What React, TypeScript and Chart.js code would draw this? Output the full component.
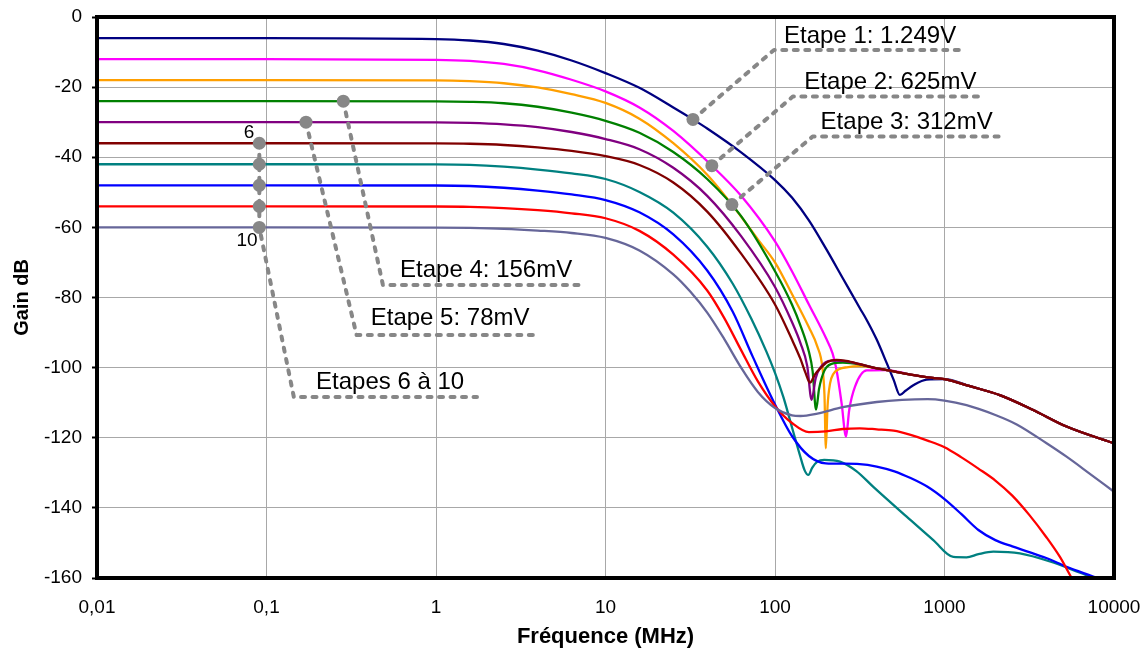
import React, { useEffect, useRef } from 'react';
import { Chart, registerables } from 'chart.js';

Chart.register(...registerables);

// ---------- axes ----------
const freqTicks = [0.01, 0.1, 1, 10, 100, 1000, 10000];
const gainMin = -160;
const gainMax = 0;
const gainStep = 20;

// ---------- series (frequency in MHz, gain in dB) ----------
// Shared high-frequency tail of stages 1..6
const tailFreq = [380, 457, 631, 794, 1000, 1413, 2138, 3311, 5248, 10000];
const tailGain = [-100, -100.7, -102, -102.8, -103.3, -105.3, -107.9, -112, -116.8, -121.6];

const navyFreq = [0.01, 0.1, 1, 1.585, 2.512, 3.981, 6.31, 10, 15.85, 25.12, 32.8, 39.81, 63.1, 100, 125.9, 158.5, 199.5, 251.2, 316.2, 347.5, 398.1, 457, 501.2, 545.8, 588.8, 654.6, 785.2];
const navyGain = [-6, -6, -6.3, -6.7, -7.7, -9.6, -12.4, -16.0, -20.2, -25.8, -29.2, -31.8, -38.6, -46.5, -51.5, -58, -66, -74.5, -83, -86.4, -92, -98.8, -103.5, -107.8, -106.6, -105, -103.4];

const magentaFreq = [0.01, 0.1, 1, 1.585, 2.512, 3.981, 6.31, 10, 15.85, 25.12, 42.4, 63.1, 100, 125.9, 158.5, 199.5, 218.8, 230.7, 247.2, 262.4, 274.2, 296.5, 347.5];
const magentaGain = [-12, -12, -12.2, -12.5, -13.4, -15.2, -17.9, -21.2, -25.8, -32.5, -42.4, -51, -64, -72.5, -82, -91.5, -96, -100.7, -110.2, -119.7, -112, -105.4, -100.8];

const orangeFreq = [0.01, 0.1, 1, 1.585, 2.512, 3.981, 6.31, 10, 15.85, 25.12, 39.81, 55.7, 79.43, 100, 125.9, 158.5, 177.8, 190.5, 195.9, 199.5, 204.2, 211.3, 220.8, 239.9, 264.9, 316.2];
const orangeGain = [-18, -18, -18.05, -18.3, -18.9, -20.1, -22, -24.5, -29, -36, -45, -53.5, -63.5, -70, -79, -88.5, -94, -100, -108, -123, -111, -104.5, -101.8, -100.4, -99.9, -99.6];

const greenFreq = [0.01, 0.1, 1, 1.585, 2.512, 3.981, 6.31, 10, 15.85, 25.12, 39.81, 63.1, 100, 125.9, 141.3, 158.5, 166.7, 174.6, 182, 195, 213.8, 251.2, 316.2];
const greenGain = [-24, -24, -24.05, -24.2, -24.6, -25.6, -27.3, -29.6, -33, -38.5, -46.2, -56.8, -72.5, -82, -88, -95.5, -101, -112, -106, -101, -99, -98.6, -99.1];

const purpleFreq = [0.01, 0.1, 1, 1.585, 2.512, 3.981, 6.31, 10, 15.85, 25.12, 39.81, 63.1, 100, 125.9, 141.3, 154.9, 164.4, 173.8, 186.2, 213.8, 251.2, 316.2];
const purpleGain = [-30, -30, -30.05, -30.2, -30.6, -31.4, -32.8, -34.8, -37.7, -43, -51, -62.5, -77, -87, -93, -99.5, -109.2, -103, -99.8, -98, -98.1, -99];

const maroonFreq = [0.01, 0.1, 1, 1.585, 2.512, 3.981, 6.31, 10, 15.85, 25.12, 39.81, 63.1, 100, 125.9, 141.3, 151.4, 160.7, 171.8, 184.1, 204.2, 230.7, 263, 316.2];
const maroonGain = [-36, -36, -36.05, -36.15, -36.5, -37.2, -38.2, -39.7, -42.2, -47.2, -55.5, -67.5, -82, -92, -97.5, -101.5, -104.3, -102, -100.3, -98.4, -97.8, -98.1, -99];

const tealFreq = [0.01, 0.1, 1, 1.585, 2.512, 3.981, 6.31, 10, 15.85, 25.12, 39.81, 56.23, 72.4, 89.13, 100, 112.2, 125.9, 140.3, 149.6, 157.4, 166, 177.8, 195, 241.5, 302, 380.2, 598, 859, 1127, 1349, 1585, 1941, 2786, 4188, 6310, 7889, 10000];
const tealGain = [-42, -42, -42.05, -42.2, -42.7, -43.5, -44.6, -46.2, -49.9, -55.8, -65.5, -76, -86, -95.5, -101.5, -108.5, -117, -125, -129.3, -130.6, -128.5, -126.8, -126.3, -126.8, -129.5, -134, -142.5, -149.2, -154, -154.1, -153.2, -152.5, -153, -155.3, -158.5, -160.3, -162];

const blueFreq = [0.01, 0.1, 1, 1.585, 2.512, 3.981, 6.31, 10, 15.85, 25.12, 39.81, 56.23, 74.1, 100, 125.9, 158.5, 199.5, 251.2, 316.2, 398.1, 501.2, 631, 794.3, 1000, 1259, 1585, 1995, 2512, 3162, 3981, 5248, 8260, 10000];
const blueGain = [-48, -48, -48.05, -48.2, -48.7, -49.5, -50.6, -52.2, -55.7, -62, -72.3, -84, -97, -110.5, -119.5, -125.2, -127.3, -127.4, -127.5, -128.2, -129.5, -131.5, -134, -137.5, -141.8, -146.3, -149.2, -151, -152.6, -154.3, -156.8, -160.3, -162];

const redFreq = [0.01, 0.1, 1, 1.585, 2.512, 3.981, 6.31, 10, 15.85, 25.12, 39.81, 50.12, 63.1, 79.43, 100, 125.9, 158.5, 199.5, 251.2, 316.2, 398.1, 501.2, 631, 794.3, 1000, 1259, 1585, 1995, 2512, 3162, 3981, 4797, 5623, 6310];
const redGain = [-54, -54, -54.05, -54.15, -54.5, -55.1, -56, -57.4, -61, -67.8, -78, -85.8, -95, -104, -111, -115.8, -118.4, -118.2, -117.5, -117.3, -117.6, -118, -119.2, -120.8, -122.7, -125.6, -128.8, -132.2, -136.5, -142, -148.3, -154, -160, -164];

const slateFreq = [0.01, 0.1, 1, 1.585, 2.512, 3.981, 6.31, 10, 15.85, 25.12, 31.62, 39.81, 50.12, 63.1, 79.43, 100, 125.9, 141.3, 177.8, 251.2, 398.1, 562.3, 794.3, 1000, 1349, 1995, 2667, 3981, 5248, 7079, 10000];
const slateGain = [-60, -60, -60.05, -60.15, -60.4, -60.9, -61.6, -63, -66.6, -73.4, -78.3, -84.3, -91.8, -100, -107, -111.5, -113.6, -113.8, -113.1, -111.3, -109.8, -109.2, -109, -109.4, -110.7, -113.5, -116.2, -121.5, -125.4, -130, -135.4];

// ---------- callouts (data space: MHz, dB) ----------
const calloutText = ['Etape 1: 1.249V', 'Etape 2: 625mV', 'Etape 3: 312mV', 'Etape 4: 156mV', 'Etape 5: 78mV', 'Etapes 6 à 10'];
const calloutPathFreq = [
  [32.8, 98.7, 1285],
  [42.4, 127.4, 1663],
  [55.7, 166.7, 2198],
  [0.284, 0.486, 7.08],
  [0.171, 0.34, 4.02],
  [0.0907, 0.0907, 0.145, 1.745],
];
const calloutPathGain = [
  [-29.2, -9.4, -9.4],
  [-42.4, -22.7, -22.7],
  [-53.5, -34.1, -34.1],
  [-24, -76.4, -76.4],
  [-30, -90.7, -90.7],
  [-36, -60, -108.4, -108.4],
];
const calloutLabelFreq = [113, 149, 185.8, 0.614, 0.412, 0.196];
const calloutLabelGain = [-7.4, -20.6, -32.0, -74.1, -87.8, -106.2];
const stageDotFreq = 0.0907;
const stageDotGain = [-36, -42, -48, -54, -60];
const stageNumText = ['6', '10'];
const stageNumFreq = [0.0789, 0.0768];
const stageNumGain = [-33.1, -63.9];

const FONT = '"Liberation Sans", Arial, Helvetica, sans-serif';

function withTail(freq: number[], gain: number[]) {
  const last = freq[freq.length - 1];
  const f = freq.slice();
  const g = gain.slice();
  tailFreq.forEach((tf, i) => {
    if (tf > last * 1.1) {
      f.push(tf);
      g.push(tailGain[i]);
    }
  });
  return { f, g };
}

function toPoints(freq: number[], gain: number[]) {
  return freq.map((f, i) => ({ x: f, y: gain[i] }));
}

export default function App() {
  const canvasRef = useRef<HTMLCanvasElement | null>(null);

  useEffect(() => {
    document.body.style.margin = '0';
    const canvas = canvasRef.current;
    if (!canvas) return;

    const seriesDefs = [
      { name: 'Etape 1', color: '#000080', ...withTail(navyFreq, navyGain) },
      { name: 'Etape 2', color: '#FF00FF', ...withTail(magentaFreq, magentaGain) },
      { name: 'Etape 3', color: '#FF9F00', ...withTail(orangeFreq, orangeGain) },
      { name: 'Etape 4', color: '#008000', ...withTail(greenFreq, greenGain) },
      { name: 'Etape 5', color: '#800080', ...withTail(purpleFreq, purpleGain) },
      { name: 'Etape 6', color: '#800000', ...withTail(maroonFreq, maroonGain) },
      { name: 'Etape 7', color: '#008080', f: tealFreq, g: tealGain },
      { name: 'Etape 8', color: '#0000FF', f: blueFreq, g: blueGain },
      { name: 'Etape 9', color: '#FF0000', f: redFreq, g: redGain },
      { name: 'Etape 10', color: '#666699', f: slateFreq, g: slateGain },
    ];

    const datasets = seriesDefs.map((s, i) => ({
      label: s.name,
      data: toPoints(s.f, s.g),
      borderColor: s.color,
      backgroundColor: s.color,
      borderWidth: 2.3,
      pointRadius: 0,
      fill: false,
      cubicInterpolationMode: 'monotone' as const,
      order: seriesDefs.length - i,
    }));

    const framePlugin = {
      id: 'frame',
      afterDatasetsDraw(chart: any) {
        const { ctx, chartArea: a } = chart;
        ctx.save();
        ctx.strokeStyle = '#000';
        ctx.lineWidth = 4;
        ctx.strokeRect(a.left, a.top, a.right - a.left, a.bottom - a.top);
        ctx.restore();
      },
    };

    const calloutPlugin = {
      id: 'callouts',
      afterDraw(chart: any) {
        const { ctx } = chart;
        const xs = chart.scales.x;
        const ys = chart.scales.y;
        const px = (f: number) => xs.getPixelForValue(f);
        const py = (g: number) => ys.getPixelForValue(g);
        const gray = '#878787';
        ctx.save();
        ctx.strokeStyle = gray;
        ctx.lineWidth = 4;
        ctx.lineCap = 'round';
        ctx.lineJoin = 'round';
        ctx.setLineDash([4, 7.5]);
        calloutPathFreq.forEach((pf, k) => {
          ctx.beginPath();
          pf.forEach((f, j) => {
            const X = px(f);
            const Y = py(calloutPathGain[k][j]);
            if (j === 0) ctx.moveTo(X, Y);
            else ctx.lineTo(X, Y);
          });
          ctx.stroke();
        });
        ctx.setLineDash([]);
        ctx.fillStyle = gray;
        calloutPathFreq.slice(0, 5).forEach((pf, k) => {
          ctx.beginPath();
          ctx.arc(px(pf[0]), py(calloutPathGain[k][0]), 6.5, 0, Math.PI * 2);
          ctx.fill();
        });
        stageDotGain.forEach((g) => {
          ctx.beginPath();
          ctx.arc(px(stageDotFreq), py(g), 6.5, 0, Math.PI * 2);
          ctx.fill();
        });
        ctx.fillStyle = '#000';
        ctx.font = `24px ${FONT}`;
        ctx.textAlign = 'left';
        ctx.textBaseline = 'alphabetic';
        calloutText.forEach((t, k) => {
          ctx.fillText(t, px(calloutLabelFreq[k]), py(calloutLabelGain[k]));
        });
        ctx.font = `19px ${FONT}`;
        ctx.textAlign = 'center';
        ctx.textBaseline = 'middle';
        stageNumText.forEach((t, k) => {
          ctx.fillText(t, px(stageNumFreq[k]), py(stageNumGain[k]));
        });
        ctx.restore();
      },
    };

    const chart = new Chart(canvas, {
      type: 'line',
      data: { datasets },
      plugins: [framePlugin, calloutPlugin],
      options: {
        responsive: false,
        maintainAspectRatio: false,
        animation: false,
        devicePixelRatio: 1,
        layout: { padding: { left: 0, top: 17, right: 31, bottom: 0 } },
        plugins: {
          legend: { display: false },
          tooltip: { enabled: false },
          title: { display: false },
        },
        scales: {
          x: {
            type: 'logarithmic',
            min: freqTicks[0],
            max: freqTicks[freqTicks.length - 1],
            afterBuildTicks: (scale: any) => {
              scale.ticks = freqTicks.map((v) => ({ value: v }));
            },
            afterFit: (scale: any) => {
              scale.height = 77;
              scale.paddingLeft = 0;
              scale.paddingRight = 0;
            },
            grid: { color: '#a8a8a8', lineWidth: 1, drawTicks: false },
            border: { display: false },
            ticks: {
              color: '#000',
              font: { family: FONT, size: 19 },
              padding: 18,
              maxRotation: 0,
              autoSkip: false,
              callback: (v: any) => String(v).replace('.', ','),
            },
            title: {
              display: true,
              text: 'Fréquence (MHz)',
              color: '#000',
              font: { family: FONT, size: 22, weight: 'bold' },
              padding: { top: 0, bottom: 5 },
            },
          },
          y: {
            type: 'linear',
            min: gainMin,
            max: gainMax,
            afterFit: (scale: any) => {
              scale.width = 97;
              scale.paddingTop = 0;
              scale.paddingBottom = 0;
            },
            grid: { color: '#a8a8a8', lineWidth: 1, drawTicks: true, tickLength: 5, tickColor: '#000', tickWidth: 2 },
            border: { display: false },
            ticks: {
              stepSize: gainStep,
              color: '#000',
              font: { family: FONT, size: 19 },
              padding: 10,
              callback: (v: any) => String(v),
            },
            title: {
              display: true,
              text: 'Gain dB',
              color: '#000',
              font: { family: FONT, size: 20, weight: 'bold' },
              padding: { top: 10, bottom: 0 },
            },
          },
        },
      } as any,
    });

    return () => {
      chart.destroy();
    };
  }, []);

  return (
    <div style={{ width: 1145, height: 655, background: '#fff' }}>
      <canvas ref={canvasRef} width={1145} height={655} style={{ display: 'block' }} />
    </div>
  );
}
